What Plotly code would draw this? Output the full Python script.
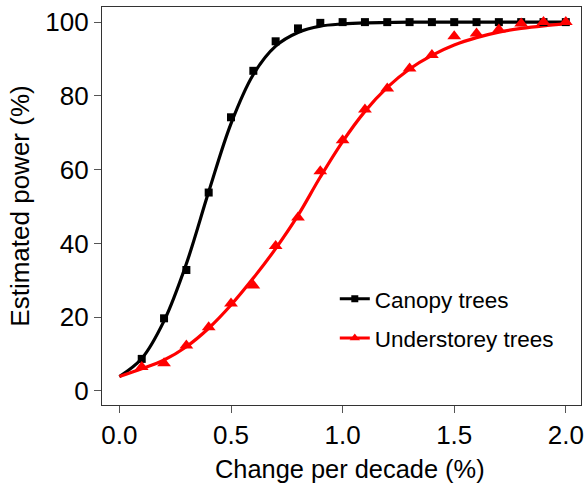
import plotly.graph_objects as go

# Observed power (markers)
change = [0.1, 0.2, 0.3, 0.4, 0.5, 0.6, 0.7, 0.8, 0.9, 1.0,
          1.1, 1.2, 1.3, 1.4, 1.5, 1.6, 1.7, 1.8, 1.9, 2.0]
canopy = [8.7, 19.7, 32.8, 53.8, 74.2, 86.8, 94.8, 98.3, 99.8, 100,
          100, 100, 100, 100, 100, 100, 100, 100, 100, 100]
understorey = [6.5, 7.5, 12.3, 17.3, 23.7, 28.6, 39.3, 47.0, 59.6, 68.0,
               76.3, 82.0, 87.4, 91.1, 96.2, 96.9, 98.0, 99.6, 100, 100]

# Fitted curves
fit_x = [0.0, 0.1, 0.2, 0.3, 0.4, 0.5, 0.6, 0.7, 0.8, 0.9, 1.0,
         1.1, 1.2, 1.3, 1.4, 1.5, 1.6, 1.7, 1.8, 1.9, 2.0]
canopy_fit = [3.9, 8.8, 19.0, 34.5, 54.0, 72.5, 85.8, 93.5, 97.2, 98.9, 99.5,
              99.8, 99.9, 100, 100, 100, 100, 100, 100, 100, 100]
understorey_fit = [3.9, 6.0, 8.4, 12.0, 17.0, 23.3, 30.6, 38.6, 47.6, 58.0, 67.6,
                   75.8, 82.3, 87.3, 91.0, 93.8, 95.8, 97.3, 98.3, 99.0, 99.5]

X_TITLE = "Change per decade (%)"
Y_TITLE = "Estimated power (%)"

BLACK = "#000000"
RED = "#ff0000"

fig = go.Figure()
fig.add_trace(go.Scatter(x=fit_x, y=canopy_fit, mode="lines", line=dict(color=BLACK, width=3.2, shape="spline"),
                         showlegend=False, hoverinfo="skip"))
fig.add_trace(go.Scatter(x=fit_x, y=understorey_fit, mode="lines", line=dict(color=RED, width=3.2, shape="spline"),
                         showlegend=False, hoverinfo="skip"))
fig.add_trace(go.Scatter(x=change, y=canopy, mode="markers",
                         marker=dict(symbol="square", size=8, color=BLACK), showlegend=False))
fig.add_trace(go.Scatter(x=change, y=understorey, mode="markers",
                         marker=dict(symbol="triangle-up", size=12, color=RED), showlegend=False))
# legend entries
fig.add_trace(go.Scatter(x=[None], y=[None], mode="lines+markers", name="Canopy trees", legendgroup="a",
                         line=dict(color=BLACK, width=3.2), marker=dict(symbol="square", size=7, color=BLACK)))
fig.add_trace(go.Scatter(x=[None], y=[None], mode="lines+markers", name="Understorey trees", legendgroup="b",
                         line=dict(color=RED, width=3.2), marker=dict(symbol="triangle-up", size=9, color=RED)))

axis_common = dict(showgrid=False, zeroline=False, showline=True, mirror=True,
                   linecolor="#333333", linewidth=1.3, ticks="outside", ticklen=7,
                   tickcolor="#555555", tickwidth=1.3,
                   tickfont=dict(size=26, color="#000000"))

fig.update_layout(
    width=587, height=486,
    margin=dict(l=102, r=3, t=7, b=81),
    paper_bgcolor="white", plot_bgcolor="white",
    font=dict(family="Liberation Sans, Arial, sans-serif", size=22, color="#000000"),
    xaxis=dict(range=[-0.078, 2.068], tickvals=[0, 0.5, 1.0, 1.5, 2.0],
               ticktext=["0.0", "0.5", "1.0", "1.5", "2.0"],
               **axis_common),
    yaxis=dict(range=[-3.8, 104.1], tickvals=[0, 20, 40, 60, 80, 100],
               title=dict(text=Y_TITLE, font=dict(size=26), standoff=8),
               **axis_common),
    legend=dict(x=0.486, y=0.32, xanchor="left", yanchor="top", bgcolor="rgba(0,0,0,0)",
                font=dict(size=22.5), tracegroupgap=7, itemwidth=30),
)
fig.add_annotation(text=X_TITLE, xref="paper", yref="paper", x=0.518, y=-0.16,
                   xanchor="center", yanchor="middle", showarrow=False,
                   font=dict(size=25.4, color="#000000"))

fig.write_html("out.html")
